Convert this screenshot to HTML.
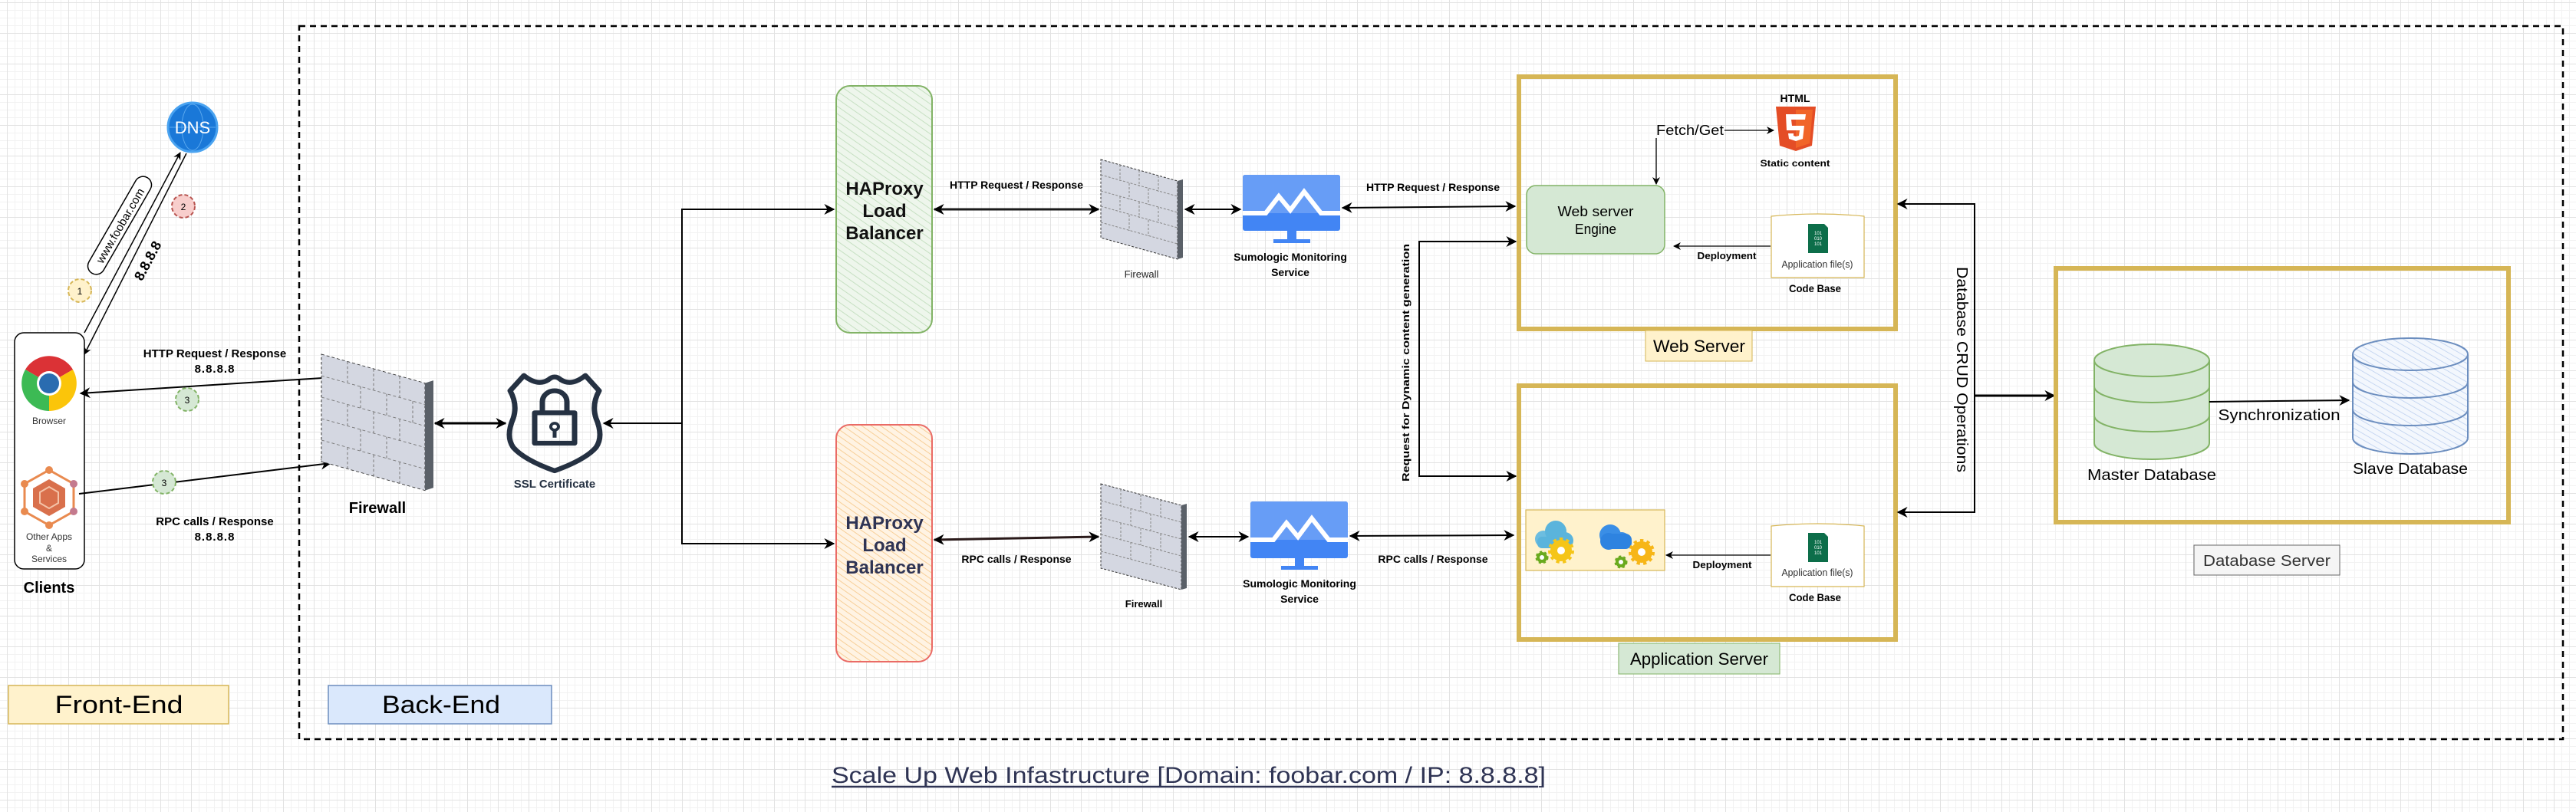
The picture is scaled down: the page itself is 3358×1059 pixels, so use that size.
<!DOCTYPE html>
<html><head><meta charset="utf-8">
<style>
html,body{margin:0;padding:0;}
body{width:3358px;height:1059px;overflow:hidden;background-color:#fff;
background-image:
linear-gradient(to right,#e2e2e2 1px,transparent 1px),
linear-gradient(to bottom,#e2e2e2 1px,transparent 1px),
linear-gradient(to right,#f2f2f2 1px,transparent 1px),
linear-gradient(to bottom,#f2f2f2 1px,transparent 1px);
background-size:40px 40px,40px 40px,10px 10px,10px 10px;
background-position:9px 3px,9px 3px,9px 3px,9px 3px;}
svg{position:absolute;left:0;top:0;}
text{font-family:"Liberation Sans",sans-serif;}
</style></head><body>
<svg width="3358" height="1059" viewBox="0 0 3358 1059" xmlns="http://www.w3.org/2000/svg">
<defs>
<marker id="a" viewBox="0 0 10 10" refX="9" refY="5" markerWidth="14" markerHeight="14" markerUnits="userSpaceOnUse" orient="auto-start-reverse">
<path d="M0,0 L10,5 L0,10 L3,5 z" fill="#000"/></marker>
<marker id="s" viewBox="0 0 10 10" refX="9" refY="5" markerWidth="10" markerHeight="10" markerUnits="userSpaceOnUse" orient="auto-start-reverse">
<path d="M0,0 L10,5 L0,10 L3,5 z" fill="#000"/></marker>
<pattern id="hg" width="8" height="8" patternUnits="userSpaceOnUse" patternTransform="rotate(-55)">
<rect width="8" height="8" fill="#eef6ec"/><line x1="0" y1="0" x2="0" y2="8" stroke="#c6e0c2" stroke-width="2"/></pattern>
<pattern id="ho" width="7" height="7" patternUnits="userSpaceOnUse" patternTransform="rotate(-55)">
<rect width="7" height="7" fill="#fff3e3"/><line x1="0" y1="0" x2="0" y2="7" stroke="#f7cf98" stroke-width="2"/></pattern>
<pattern id="hb" width="7" height="7" patternUnits="userSpaceOnUse" patternTransform="rotate(-60)">
<rect width="7" height="7" fill="#f3f7fd"/><line x1="0" y1="0" x2="0" y2="7" stroke="#b9cdee" stroke-width="1.5"/></pattern>
</defs>

<!-- Back-end boundary -->
<rect x="390" y="34" width="2951" height="930" fill="none" stroke="#000" stroke-width="2.5" stroke-dasharray="8,6"/>

<!-- DNS -->
<circle cx="251" cy="166" r="32" fill="#1a78d8" stroke="#4aa3f0" stroke-width="3"/>
<ellipse cx="251" cy="166" rx="14" ry="30" fill="none" stroke="#5aa8ee" stroke-width="1"/>
<line x1="221" y1="166" x2="281" y2="166" stroke="#5aa8ee" stroke-width="1"/>
<text x="251" y="174" font-size="22" fill="#fff" text-anchor="middle">DNS</text>

<!-- DNS arrows -->
<line x1="110" y1="434" x2="235" y2="199" stroke="#000" stroke-width="1.5" marker-end="url(#s)"/>
<line x1="243" y1="200" x2="110" y2="462" stroke="#000" stroke-width="1.5" marker-end="url(#s)"/>
<g transform="translate(156,294) rotate(-60)">
<rect x="-72" y="-11" width="144" height="22" rx="11" fill="#fff" stroke="#000" stroke-width="1.5"/>
<text x="0" y="6" font-size="15" text-anchor="middle">www.foobar.com</text></g>
<text transform="translate(198,343) rotate(-62)" font-size="18" font-weight="bold" text-anchor="middle">8.8.8.8</text>
<circle cx="104" cy="379" r="15" fill="#fff2cc" stroke="#d6b656" stroke-width="2" stroke-dasharray="5,3"/>
<text x="104" y="384" font-size="12" text-anchor="middle">1</text>
<circle cx="239" cy="269" r="15" fill="#f8cecc" stroke="#b85450" stroke-width="2" stroke-dasharray="5,3"/>
<text x="239" y="274" font-size="12" text-anchor="middle">2</text>

<!-- Clients box -->
<rect x="19" y="434" width="91" height="308" rx="12" fill="#fff" stroke="#000" stroke-width="1.5"/>
<g transform="translate(64,500)">
<path d="M0,0 L-31,-18 A36,36 0 0 1 31,-18 Z" fill="#db3236"/>
<path d="M0,0 L31,-18 A36,36 0 0 1 0,36 Z" fill="#fbc50a"/>
<path d="M0,0 L0,36 A36,36 0 0 1 -31,-18 Z" fill="#3cba54"/>
<circle r="16" fill="#fff"/><circle r="13" fill="#2a6cb0"/></g>
<text x="64" y="553" font-size="12" text-anchor="middle" fill="#333">Browser</text>
<g transform="translate(64,649)">
<polygon points="0,-36 32,-18 32,18 0,36 -32,18 -32,-18" fill="none" stroke="#e98a4f" stroke-width="3"/>
<polygon points="0,-24 21,-12 21,12 0,24 -21,12 -21,-12" fill="#d9704c"/>
<polygon points="0,-14 12,-7 12,7 0,14 -12,7 -12,-7" fill="none" stroke="#f4c3a8" stroke-width="2"/>
<circle cx="0" cy="-36" r="5" fill="#e98a4f"/><circle cx="32" cy="-18" r="5" fill="#c47a8e"/><circle cx="32" cy="18" r="5" fill="#c47a8e"/>
<circle cx="0" cy="36" r="5" fill="#e98a4f"/><circle cx="-32" cy="18" r="5" fill="#e98a4f"/><circle cx="-32" cy="-18" r="5" fill="#e98a4f"/></g>
<text x="64" y="704" font-size="12" text-anchor="middle" fill="#333">Other Apps</text>
<text x="64" y="719" font-size="12" text-anchor="middle" fill="#333">&amp;</text>
<text x="64" y="733" font-size="12" text-anchor="middle" fill="#333">Services</text>
<text x="64" y="773" font-size="20" font-weight="bold" text-anchor="middle">Clients</text>

<!-- client arrows -->
<line x1="105" y1="513" x2="436" y2="492" stroke="#000" stroke-width="2" marker-start="url(#a)" marker-end="url(#a)"/>
<text x="280" y="466" font-size="15" font-weight="bold" text-anchor="middle">HTTP Request / Response</text>
<text x="280" y="486" font-size="15" font-weight="bold" text-anchor="middle" letter-spacing="1">8.8.8.8</text>
<circle cx="244" cy="521" r="15" fill="#d5e8d4" stroke="#82b366" stroke-width="2" stroke-dasharray="5,3"/>
<text x="244" y="526" font-size="12" text-anchor="middle">3</text>
<line x1="103" y1="644" x2="431" y2="604" stroke="#000" stroke-width="2" marker-end="url(#a)"/>
<circle cx="214" cy="629" r="15" fill="#d5e8d4" stroke="#82b366" stroke-width="2" stroke-dasharray="5,3"/>
<text x="214" y="634" font-size="12" text-anchor="middle">3</text>
<text x="280" y="685" font-size="15" font-weight="bold" text-anchor="middle">RPC calls / Response</text>
<text x="280" y="705" font-size="15" font-weight="bold" text-anchor="middle" letter-spacing="1">8.8.8.8</text>

<!-- Big firewall -->
<g transform="translate(0,462) scale(1,0.875) translate(0,-514)">
<polygon points="419,514 554,557 554,717 419,674" fill="#d4d7e1" stroke="#333" stroke-width="1" stroke-dasharray="4,3"/>
<polygon points="554,557 565,553 565,713 554,717" fill="#5a6068"/>
<g stroke="#777" stroke-width="1" stroke-dasharray="4,3">
<line x1="419" y1="546" x2="554" y2="589"/><line x1="419" y1="578" x2="554" y2="621"/><line x1="419" y1="610" x2="554" y2="653"/><line x1="419" y1="642" x2="554" y2="685"/>
<line x1="453" y1="525" x2="453" y2="556"/><line x1="487" y1="536" x2="487" y2="567"/><line x1="521" y1="547" x2="521" y2="578"/>
<line x1="470" y1="562" x2="470" y2="594"/><line x1="504" y1="573" x2="504" y2="605"/><line x1="538" y1="584" x2="538" y2="616"/>
<line x1="453" y1="589" x2="453" y2="621"/><line x1="487" y1="600" x2="487" y2="632"/><line x1="521" y1="611" x2="521" y2="643"/>
<line x1="470" y1="626" x2="470" y2="658"/><line x1="504" y1="637" x2="504" y2="669"/><line x1="453" y1="653" x2="453" y2="685"/><line x1="487" y1="664" x2="487" y2="696"/><line x1="521" y1="675" x2="521" y2="707"/></g>
</g>
<text x="492" y="669" font-size="20" font-weight="bold" text-anchor="middle">Firewall</text>
<line x1="567" y1="552" x2="659" y2="552" stroke="#000" stroke-width="3" marker-start="url(#a)" marker-end="url(#a)"/>

<!-- SSL shield -->
<g transform="translate(723,551) scale(1,0.9)" fill="none" stroke="#253142" stroke-width="7" stroke-linejoin="round">
<path d="M-40,-68 Q-22,-52 -8,-62 Q0,-70 8,-62 Q22,-52 40,-68 L58,-46 Q48,-26 54,-6 Q64,20 54,36 Q40,54 0,70 Q-40,54 -54,36 Q-64,20 -54,-6 Q-48,-26 -58,-46 Z"/>
<rect x="-26" y="-14" width="52" height="44"/>
<path d="M-16,-14 V-30 A16,16 0 0 1 16,-30 V-14"/>
<circle cx="0" cy="6" r="5" stroke-width="4"/><line x1="0" y1="11" x2="0" y2="22" stroke-width="5"/></g>
<text x="723" y="636" font-size="15" font-weight="bold" text-anchor="middle" fill="#253142">SSL Certificate</text>

<!-- branch -->
<polyline points="1087,273 889,273 889,709 1087,709" fill="none" stroke="#000" stroke-width="2" marker-start="url(#a)" marker-end="url(#a)"/>
<line x1="889" y1="552" x2="787" y2="552" stroke="#000" stroke-width="2" marker-end="url(#a)"/>

<!-- LBs -->
<rect x="1090" y="112" width="125" height="322" rx="18" fill="url(#hg)" stroke="#82b366" stroke-width="2"/>
<text font-size="24" font-weight="bold" text-anchor="middle" fill="#111"><tspan x="1153" y="254">HAProxy</tspan><tspan x="1153" y="283">Load</tspan><tspan x="1153" y="312">Balancer</tspan></text>
<rect x="1090" y="554" width="125" height="309" rx="18" fill="url(#ho)" stroke="#ea6b66" stroke-width="2"/>
<text font-size="24" font-weight="bold" text-anchor="middle" fill="#2f3454"><tspan x="1153" y="690">HAProxy</tspan><tspan x="1153" y="719">Load</tspan><tspan x="1153" y="748">Balancer</tspan></text>

<!-- top row -->
<line x1="1218" y1="273" x2="1432" y2="273" stroke="#1a1a1a" stroke-width="3" marker-start="url(#a)" marker-end="url(#a)"/>
<text x="1325" y="246" font-size="14" font-weight="bold" text-anchor="middle">HTTP Request / Response</text>
<polygon points="1435,208 1535,236 1535,338 1435,310" fill="#d4d7e1" stroke="#333" stroke-dasharray="3,2"/>
<polygon points="1535,236 1542,234 1542,336 1535,338" fill="#5a6068"/>
<g stroke="#888" stroke-dasharray="3,2"><line x1="1435" y1="228" x2="1535" y2="256"/><line x1="1435" y1="249" x2="1535" y2="277"/><line x1="1435" y1="269" x2="1535" y2="297"/><line x1="1435" y1="290" x2="1535" y2="318"/>
<line x1="1460" y1="215" x2="1460" y2="236"/><line x1="1485" y1="222" x2="1485" y2="243"/><line x1="1510" y1="229" x2="1510" y2="250"/><line x1="1472" y1="239" x2="1472" y2="260"/><line x1="1497" y1="246" x2="1497" y2="267"/><line x1="1460" y1="256" x2="1460" y2="277"/><line x1="1485" y1="263" x2="1485" y2="284"/><line x1="1510" y1="270" x2="1510" y2="291"/><line x1="1472" y1="280" x2="1472" y2="301"/><line x1="1497" y1="287" x2="1497" y2="308"/></g>
<text x="1488" y="362" font-size="13" text-anchor="middle" fill="#222">Firewall</text>
<line x1="1545" y1="273" x2="1617" y2="273" stroke="#000" stroke-width="2" marker-start="url(#a)" marker-end="url(#a)"/>
<g transform="translate(1620,228)">
<rect x="0" y="0" width="127" height="73" rx="3" fill="#4285f4"/>
<rect x="0" y="0" width="127" height="50" rx="3" fill="#679df6"/>
<polyline points="0,50 30,50 47,28 62,46 80,22 102,50 127,50" fill="none" stroke="#fff" stroke-width="6"/>
<rect x="58" y="73" width="12" height="12" fill="#4285f4"/><rect x="40" y="84" width="48" height="5" fill="#4285f4"/></g>
<text x="1682" y="340" font-size="14" font-weight="bold" text-anchor="middle">Sumologic Monitoring</text>
<text x="1682" y="360" font-size="14" font-weight="bold" text-anchor="middle">Service</text>
<line x1="1750" y1="271" x2="1975" y2="269" stroke="#000" stroke-width="2" marker-start="url(#a)" marker-end="url(#a)"/>
<text x="1868" y="249" font-size="14" font-weight="bold" text-anchor="middle">HTTP Request / Response</text>

<!-- dynamic -->
<polyline points="1976,315 1850,315 1850,621 1976,621" fill="none" stroke="#000" stroke-width="2" marker-start="url(#a)" marker-end="url(#a)"/>
<text transform="translate(1837,473) rotate(-90)" font-size="13" font-weight="bold" text-anchor="middle" textLength="310" lengthAdjust="spacingAndGlyphs">Request for Dynamic content generation</text>

<!-- bottom row -->
<line x1="1218" y1="704" x2="1432" y2="700" stroke="#2a1a1a" stroke-width="3" marker-start="url(#a)" marker-end="url(#a)"/>
<text x="1325" y="734" font-size="14" font-weight="bold" text-anchor="middle">RPC calls / Response</text>
<polygon points="1435,631 1540,659 1540,769 1435,741" fill="#d4d7e1" stroke="#333" stroke-dasharray="3,2"/>
<polygon points="1540,659 1547,657 1547,767 1540,769" fill="#5a6068"/>
<g stroke="#888" stroke-dasharray="3,2"><line x1="1435" y1="653" x2="1540" y2="681"/><line x1="1435" y1="675" x2="1540" y2="703"/><line x1="1435" y1="697" x2="1540" y2="725"/><line x1="1435" y1="719" x2="1540" y2="747"/>
<line x1="1461" y1="638" x2="1461" y2="660"/><line x1="1487" y1="645" x2="1487" y2="667"/><line x1="1513" y1="652" x2="1513" y2="674"/><line x1="1474" y1="663" x2="1474" y2="685"/><line x1="1500" y1="670" x2="1500" y2="692"/><line x1="1461" y1="682" x2="1461" y2="704"/><line x1="1487" y1="689" x2="1487" y2="711"/><line x1="1513" y1="696" x2="1513" y2="718"/><line x1="1474" y1="707" x2="1474" y2="729"/><line x1="1500" y1="714" x2="1500" y2="736"/></g>
<text x="1491" y="792" font-size="13" font-weight="bold" text-anchor="middle">Firewall</text>
<line x1="1550" y1="700" x2="1627" y2="700" stroke="#000" stroke-width="2" marker-start="url(#a)" marker-end="url(#a)"/>
<g transform="translate(1630,654)">
<rect x="0" y="0" width="127" height="74" rx="3" fill="#4285f4"/>
<rect x="0" y="0" width="127" height="50" rx="3" fill="#679df6"/>
<polyline points="0,50 30,50 47,28 62,46 80,22 102,50 127,50" fill="none" stroke="#fff" stroke-width="6"/>
<rect x="58" y="74" width="12" height="11" fill="#4285f4"/><rect x="40" y="84" width="48" height="5" fill="#4285f4"/></g>
<text x="1694" y="766" font-size="14" font-weight="bold" text-anchor="middle">Sumologic Monitoring</text>
<text x="1694" y="786" font-size="14" font-weight="bold" text-anchor="middle">Service</text>
<line x1="1760" y1="699" x2="1973" y2="698" stroke="#000" stroke-width="2" marker-start="url(#a)" marker-end="url(#a)"/>
<text x="1868" y="734" font-size="14" font-weight="bold" text-anchor="middle">RPC calls / Response</text>

<!-- Web server -->
<rect x="1980" y="100" width="491" height="329" fill="none" stroke="#d6b656" stroke-width="6"/>
<text x="2340" y="133" font-size="14" font-weight="bold" text-anchor="middle">HTML</text>
<path d="M2315,139 L2367,139 L2362,190 L2341,197 L2320,190 Z" fill="#e44d26"/>
<path d="M2341,143 L2363,143 L2359,187 L2341,193 Z" fill="#f16529"/>
<path d="M2328,149 L2354,149 L2353,156 L2335,156 L2336,164 L2352,164 L2350,181 L2341,184 L2332,181 L2331,174 L2338,174 L2338,177 L2341,178 L2345,177 L2346,170 L2329,170 Z" fill="#fff"/>
<text x="2340" y="217" font-size="12" font-weight="bold" text-anchor="middle" textLength="91" lengthAdjust="spacingAndGlyphs">Static content</text>
<text x="2159" y="176" font-size="18" textLength="88" lengthAdjust="spacingAndGlyphs">Fetch/Get</text>
<line x1="2248" y1="170" x2="2312" y2="170" stroke="#000" stroke-width="1.3" marker-end="url(#s)"/>
<line x1="2159" y1="180" x2="2159" y2="240" stroke="#000" stroke-width="1.3" marker-end="url(#s)"/>
<rect x="1990" y="242" width="180" height="89" rx="12" fill="#d5e8d4" stroke="#82b366" stroke-width="1.5"/>
<text x="2080" y="282" font-size="18" text-anchor="middle" textLength="99" lengthAdjust="spacingAndGlyphs">Web server</text>
<text x="2080" y="305" font-size="18" text-anchor="middle" textLength="54" lengthAdjust="spacingAndGlyphs">Engine</text>
<path d="M2309,282 Q2370,276 2430,282 L2430,362 L2309,362 Z" fill="#fff" stroke="#d6b656" stroke-width="1.2"/>
<path d="M2357,292 L2378,292 L2383,297 L2383,330 L2357,330 Z" fill="#0d6e4a"/>
<text x="2370" y="306" font-size="6" fill="#fff" text-anchor="middle">101</text><text x="2370" y="313" font-size="6" fill="#fff" text-anchor="middle">010</text><text x="2370" y="320" font-size="6" fill="#fff" text-anchor="middle">101</text>
<text x="2369" y="349" font-size="13" text-anchor="middle" fill="#333" textLength="93" lengthAdjust="spacingAndGlyphs">Application file(s)</text>
<text x="2366" y="381" font-size="14" font-weight="bold" text-anchor="middle" textLength="68" lengthAdjust="spacingAndGlyphs">Code Base</text>
<line x1="2308" y1="321" x2="2182" y2="321" stroke="#000" stroke-width="1.3" marker-end="url(#s)"/>
<text x="2251" y="338" font-size="13" font-weight="bold" text-anchor="middle" textLength="77" lengthAdjust="spacingAndGlyphs">Deployment</text>
<rect x="2145" y="431" width="139" height="40" fill="#fff2cc" stroke="#d6b656"/>
<text x="2215" y="459" font-size="22" text-anchor="middle" textLength="120" lengthAdjust="spacingAndGlyphs">Web Server</text>

<!-- App server -->
<rect x="1980" y="503" width="491" height="331" fill="none" stroke="#d6b656" stroke-width="6"/>
<rect x="1989" y="665" width="181" height="79" fill="#fff2cc" stroke="#d6b656" stroke-width="1.2"/>
<g>
<circle cx="2012" cy="703" r="11" fill="#6cbde0"/><circle cx="2028" cy="693" r="14" fill="#5ab4dc"/><circle cx="2040" cy="705" r="11" fill="#5ab4dc"/><rect x="2004" y="700" width="45" height="15" rx="6" fill="#5ab4dc"/>
<circle cx="2035" cy="718" r="14" fill="#f5c518" stroke="#f5c518" stroke-width="6" stroke-dasharray="4,4"/><circle cx="2035" cy="718" r="5" fill="#fff"/>
<circle cx="2010" cy="727" r="7" fill="#6aaa1e" stroke="#6aaa1e" stroke-width="3" stroke-dasharray="3,3"/><circle cx="2010" cy="727" r="3" fill="#fff"/>
<circle cx="2099" cy="698" r="14" fill="#3a8ee6"/><circle cx="2114" cy="705" r="11" fill="#3a8ee6"/><rect x="2094" y="696" width="33" height="20" rx="8" fill="#2e83e0"/><circle cx="2097" cy="706" r="11" fill="#2e83e0"/>
<circle cx="2140" cy="720" r="14" fill="#f7b617" stroke="#f7b617" stroke-width="6" stroke-dasharray="4,4"/><circle cx="2140" cy="720" r="5" fill="#fff"/>
<circle cx="2113" cy="733" r="7" fill="#6aaa1e" stroke="#6aaa1e" stroke-width="3" stroke-dasharray="3,3"/><circle cx="2113" cy="733" r="3" fill="#fff"/>
</g>
<path d="M2309,686 Q2370,680 2430,686 L2430,765 L2309,765 Z" fill="#fff" stroke="#d6b656" stroke-width="1.2"/>
<path d="M2357,695 L2378,695 L2383,700 L2383,733 L2357,733 Z" fill="#0d6e4a"/>
<text x="2370" y="709" font-size="6" fill="#fff" text-anchor="middle">101</text><text x="2370" y="716" font-size="6" fill="#fff" text-anchor="middle">010</text><text x="2370" y="723" font-size="6" fill="#fff" text-anchor="middle">101</text>
<text x="2369" y="751" font-size="13" text-anchor="middle" fill="#333" textLength="93" lengthAdjust="spacingAndGlyphs">Application file(s)</text>
<text x="2366" y="784" font-size="14" font-weight="bold" text-anchor="middle" textLength="68" lengthAdjust="spacingAndGlyphs">Code Base</text>
<line x1="2308" y1="724" x2="2172" y2="724" stroke="#000" stroke-width="1.3" marker-end="url(#s)"/>
<text x="2245" y="741" font-size="13" font-weight="bold" text-anchor="middle" textLength="77" lengthAdjust="spacingAndGlyphs">Deployment</text>
<rect x="2110" y="839" width="210" height="40" fill="#d5e8d4" stroke="#82b366"/>
<text x="2215" y="867" font-size="22" text-anchor="middle" textLength="180" lengthAdjust="spacingAndGlyphs">Application Server</text>

<!-- CRUD -->
<polyline points="2474,266 2574,266 2574,668 2474,668" fill="none" stroke="#000" stroke-width="2" marker-start="url(#a)" marker-end="url(#a)"/>
<line x1="2574" y1="516" x2="2678" y2="516" stroke="#000" stroke-width="3" marker-end="url(#a)"/>
<rect x="2546" y="345" width="22" height="275" fill="#fff"/>
<text transform="translate(2551,482) rotate(90)" font-size="20" text-anchor="middle" textLength="268" lengthAdjust="spacingAndGlyphs">Database CRUD Operations</text>

<!-- DB server -->
<rect x="2680" y="350" width="590" height="331" fill="none" stroke="#d6b656" stroke-width="6"/>
<g fill="#d5e8d4" stroke="#82b366" stroke-width="2">
<path d="M2730,470 L2730,578 A75,21 0 0 0 2880,578 L2880,470"/>
<ellipse cx="2805" cy="470" rx="75" ry="21"/>
<path d="M2730,504 A75,21 0 0 0 2880,504" fill="none"/>
<path d="M2730,542 A75,21 0 0 0 2880,542" fill="none"/></g>
<text x="2805" y="626" font-size="20" text-anchor="middle" textLength="168" lengthAdjust="spacingAndGlyphs">Master Database</text>
<g fill="url(#hb)" stroke="#6c8ebf" stroke-width="2">
<path d="M3067,462 L3067,571 A75,21 0 0 0 3217,571 L3217,462"/>
<ellipse cx="3142" cy="462" rx="75" ry="21"/>
<path d="M3067,498 A75,21 0 0 0 3217,498" fill="none"/>
<path d="M3067,534 A75,21 0 0 0 3217,534" fill="none"/></g>
<text x="3142" y="618" font-size="20" text-anchor="middle" textLength="150" lengthAdjust="spacingAndGlyphs">Slave Database</text>
<line x1="2880" y1="524" x2="3062" y2="522" stroke="#000" stroke-width="2" marker-end="url(#a)"/>
<text x="2971" y="548" font-size="20" text-anchor="middle" textLength="159" lengthAdjust="spacingAndGlyphs">Synchronization</text>
<rect x="2860" y="711" width="190" height="39" fill="#f5f5f5" stroke="#666"/>
<text x="2955" y="738" font-size="20" text-anchor="middle" fill="#333" textLength="166" lengthAdjust="spacingAndGlyphs">Database Server</text>

<!-- bottom labels -->
<rect x="11" y="894" width="287" height="50" fill="#fff2cc" stroke="#d6b656" stroke-width="1.5"/>
<text x="155" y="930" font-size="32" text-anchor="middle" textLength="167" lengthAdjust="spacingAndGlyphs">Front-End</text>
<rect x="428" y="894" width="291" height="50" fill="#dae8fc" stroke="#6c8ebf" stroke-width="1.5"/>
<text x="575" y="930" font-size="32" text-anchor="middle" textLength="154" lengthAdjust="spacingAndGlyphs">Back-End</text>
<text x="1084" y="1021" font-size="30" fill="#2f3454" textLength="931" lengthAdjust="spacingAndGlyphs">Scale Up Web Infastructure [Domain: foobar.com / IP: 8.8.8.8]</text>
<line x1="1084" y1="1026" x2="2005" y2="1026" stroke="#2f3454" stroke-width="2.5"/>
</svg>
</body></html>
